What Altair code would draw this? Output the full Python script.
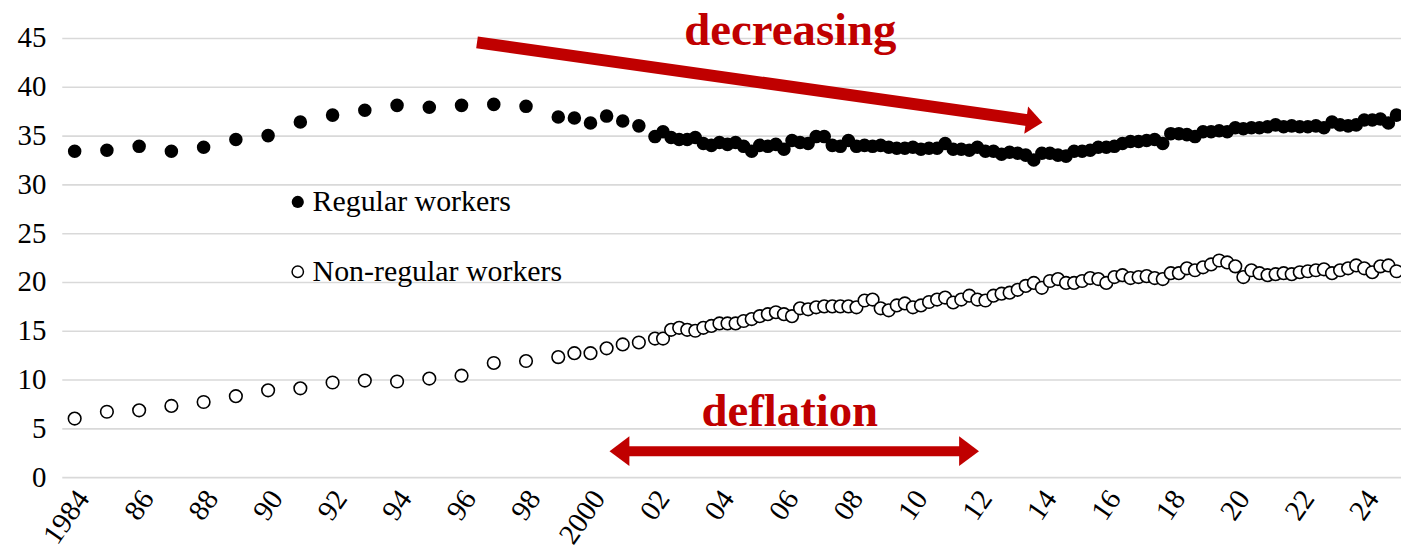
import altair as alt
import pandas as pd

# ---------------- data (millions of workers) ----------------
annual_years = list(range(1984, 1999))
regular_annual = [33.4, 33.5, 33.9, 33.4, 33.8, 34.6, 35.0, 36.4, 37.1, 37.6, 38.1, 37.9, 38.1, 38.2, 38.0]
nonregular_annual = [6.0, 6.7, 6.85, 7.3, 7.7, 8.3, 8.9, 9.1, 9.7, 9.9, 9.8, 10.1, 10.4, 11.7, 11.9]

semi_periods = [1999.0, 1999.5, 2000.0, 2000.5, 2001.0, 2001.5]
regular_semi = [36.9, 36.8, 36.3, 37.0, 36.5, 36.0]
nonregular_semi = [12.3, 12.7, 12.7, 13.2, 13.6, 13.8]

quarter_years = list(range(2002, 2026))
regular_q = [
    34.9, 35.4, 34.8, 34.6,  # 2002
    34.6, 34.8, 34.2, 34.0,  # 2003
    34.3, 34.1, 34.3, 33.9,  # 2004
    33.4, 34.0, 33.9, 34.1,  # 2005
    33.6, 34.5, 34.3, 34.2,  # 2006
    34.9, 34.9, 34.0, 33.9,  # 2007
    34.5, 33.9, 34.0, 33.9,  # 2008
    34.0, 33.8, 33.7, 33.7,  # 2009
    33.8, 33.6, 33.7, 33.7,  # 2010
    34.2, 33.6, 33.6, 33.5,  # 2011
    33.8, 33.4, 33.4, 33.1,  # 2012
    33.3, 33.2, 33.0, 32.5,  # 2013
    33.2, 33.2, 33.0, 32.9,  # 2014
    33.4, 33.4, 33.5, 33.8,  # 2015
    33.8, 33.9, 34.2, 34.4,  # 2016
    34.4, 34.5, 34.6, 34.2,  # 2017
    35.2, 35.2, 35.1, 34.9,  # 2018
    35.4, 35.4, 35.5, 35.4,  # 2019
    35.8, 35.7, 35.8, 35.8,  # 2020
    35.9, 36.1, 35.9, 36.0,  # 2021
    35.9, 35.9, 36.0, 35.8,  # 2022
    36.4, 36.1, 36.0, 36.1,  # 2023
    36.6, 36.6, 36.7, 36.3,  # 2024
    37.1,                    # 2025
]
nonregular_q = [
    14.2, 14.2, 15.1, 15.3,  # 2002
    15.1, 15.0, 15.3, 15.5,  # 2003
    15.75, 15.75, 15.75, 16.0,  # 2004
    16.2, 16.5, 16.7, 16.9,  # 2005
    16.7, 16.5, 17.3, 17.2,  # 2006
    17.4, 17.5, 17.5, 17.5,  # 2007
    17.5, 17.4, 18.1, 18.2,  # 2008
    17.3, 17.1, 17.6, 17.8,  # 2009
    17.4, 17.6, 17.95, 18.2,  # 2010
    18.4, 17.9, 18.2, 18.6,  # 2011
    18.2, 18.1, 18.6, 18.8,  # 2012
    18.9, 19.2, 19.6, 19.9,  # 2013
    19.4, 20.1, 20.3, 19.9,  # 2014
    19.9, 20.1, 20.4, 20.3,  # 2015
    19.9, 20.5, 20.7, 20.4,  # 2016
    20.5, 20.6, 20.4, 20.3,  # 2017
    20.9, 20.9, 21.4, 21.2,  # 2018
    21.5, 21.8, 22.2, 22.0,  # 2019
    21.6, 20.5, 21.2, 20.9,  # 2020
    20.7, 20.8, 20.9, 20.8,  # 2021
    21.0, 21.1, 21.2, 21.3,  # 2022
    20.9, 21.2, 21.4, 21.7,  # 2023
    21.4, 21.0, 21.6, 21.7,  # 2024
    21.1,                    # 2025
]

tick_years = list(range(1984, 2025, 2))
series_names = ["Regular workers", "Non-regular workers"]

# ---------------- build table ----------------
quarter_times = [y + q / 4 for y in quarter_years for q in range(4)][: len(regular_q)]
times = [float(t) for t in annual_years] + semi_periods + quarter_times
reg_vals = regular_annual + regular_semi + regular_q
non_vals = nonregular_annual + nonregular_semi + nonregular_q

df_reg = pd.DataFrame({"t": times, "v": reg_vals})
df_non = pd.DataFrame({"t": times, "v": non_vals})

SERIF = "Liberation Serif"
RED = "#c00000"

x_scale = alt.Scale(domain=[1983.6, 2025.14], nice=False, zero=False)
y_scale = alt.Scale(domain=[0, 45], nice=False, zero=True)

x_axis = alt.Axis(
    values=tick_years,
    labelExpr="(datum.value == 1984 || datum.value == 2000) ? toString(datum.value) : substring(toString(datum.value), 2)",
    labelAngle=-55, labelAlign="right", labelBaseline="middle", labelPadding=16, labelOffset=8,
    labelFont=SERIF, labelFontSize=29, labelColor="black",
    labelOverlap=False, labelFlush=False, labelBound=False,
    grid=False, domain=False, ticks=False, title=None,
)
y_axis = alt.Axis(
    values=list(range(0, 50, 5)),
    labelFont=SERIF, labelFontSize=29, labelColor="black", labelPadding=16,
    grid=True, gridColor="#d9d9d9", gridWidth=1.6,
    domain=False, ticks=False, title=None,
)

X = alt.X("t:Q", scale=x_scale, axis=x_axis)
Y = alt.Y("v:Q", scale=y_scale, axis=y_axis)

reg_layer = alt.Chart(df_reg).mark_circle(size=185, color="black", opacity=1).encode(x=X, y=Y)
non_layer = alt.Chart(df_non).mark_point(
    shape="circle", size=160, filled=True, fill="white", stroke="black", strokeWidth=1.6, opacity=1
).encode(x=alt.X("t:Q", scale=x_scale), y=alt.Y("v:Q", scale=y_scale))

# ---------------- legend (inside plot) ----------------
legend_marker_t = [1990.92, 1990.92]
legend_marker_v = [28.2, 21.05]
legend_text_t = [1991.38, 1991.38]
df_leg = pd.DataFrame({"t": legend_marker_t, "v": legend_marker_v, "tt": legend_text_t, "name": series_names})
leg_reg = alt.Chart(df_leg.iloc[[0]]).mark_circle(size=150, color="black", opacity=1).encode(
    x=alt.X("t:Q", scale=x_scale), y=alt.Y("v:Q", scale=y_scale))
leg_non = alt.Chart(df_leg.iloc[[1]]).mark_point(
    shape="circle", size=130, filled=True, fill="white", stroke="black", strokeWidth=1.5, opacity=1
).encode(x=alt.X("t:Q", scale=x_scale), y=alt.Y("v:Q", scale=y_scale))
leg_text = alt.Chart(df_leg).mark_text(
    font=SERIF, fontSize=30, color="black", align="left", baseline="middle"
).encode(x=alt.X("tt:Q", scale=x_scale), y=alt.Y("v:Q", scale=y_scale), text="name:N")

# ---------------- annotations ----------------
ann_text = pd.DataFrame({
    "t": [2006.2, 2006.18],
    "v": [44.3, 5.2],
    "label": ["decreasing", "deflation"],
})
ann_text_layer = alt.Chart(ann_text).mark_text(
    font=SERIF, fontSize=47, fontWeight="bold", color=RED, align="center", baseline="alphabetic"
).encode(x=alt.X("t:Q", scale=x_scale), y=alt.Y("v:Q", scale=y_scale), text="label:N")

# decreasing arrow
dec_shaft = pd.DataFrame({"t": [1996.48], "v": [44.55], "t2": [2013.6], "v2": [36.57]})
dec_shaft_layer = alt.Chart(dec_shaft).mark_rule(color=RED, strokeWidth=12, strokeCap="butt").encode(
    x=alt.X("t:Q", scale=x_scale), y=alt.Y("v:Q", scale=y_scale), x2="t2:Q", y2="v2:Q")
dec_head = pd.DataFrame({"t": [2014.02], "v": [36.35]})
dec_head_layer = alt.Chart(dec_head).mark_point(
    shape="M0,0L-1.2,-1L-1.2,1Z", size=760, angle=8, filled=True, color=RED, opacity=1, strokeWidth=0
).encode(x=alt.X("t:Q", scale=x_scale), y=alt.Y("v:Q", scale=y_scale))

# deflation double arrow
def_shaft = pd.DataFrame({"t": [2001.1], "v": [2.66], "t2": [2011.55], "v2": [2.66]})
def_shaft_layer = alt.Chart(def_shaft).mark_rule(color=RED, strokeWidth=10, strokeCap="butt").encode(
    x=alt.X("t:Q", scale=x_scale), y=alt.Y("v:Q", scale=y_scale), x2="t2:Q", y2="v2:Q")
def_left = pd.DataFrame({"t": [2000.59], "v": [2.66]})
def_right = pd.DataFrame({"t": [2012.05], "v": [2.66]})
def_left_layer = alt.Chart(def_left).mark_point(
    shape="M0,0L1.33,-1L1.33,1Z", size=900, filled=True, color=RED, opacity=1, strokeWidth=0
).encode(x=alt.X("t:Q", scale=x_scale), y=alt.Y("v:Q", scale=y_scale))
def_right_layer = alt.Chart(def_right).mark_point(
    shape="M0,0L-1.33,-1L-1.33,1Z", size=900, filled=True, color=RED, opacity=1, strokeWidth=0
).encode(x=alt.X("t:Q", scale=x_scale), y=alt.Y("v:Q", scale=y_scale))

chart = alt.layer(
    reg_layer, non_layer, leg_reg, leg_non, leg_text,
    dec_shaft_layer, dec_head_layer, def_shaft_layer, def_left_layer, def_right_layer,
    ann_text_layer,
).properties(
    width=1345, height=441,
    padding={"left": 54, "top": 29, "right": 0, "bottom": 70},
    autosize=alt.AutoSizeParams(type="none"),
    background="white",
).configure_view(stroke=None)

chart.save("out.html", embed_options={"renderer": "svg", "actions": False})
